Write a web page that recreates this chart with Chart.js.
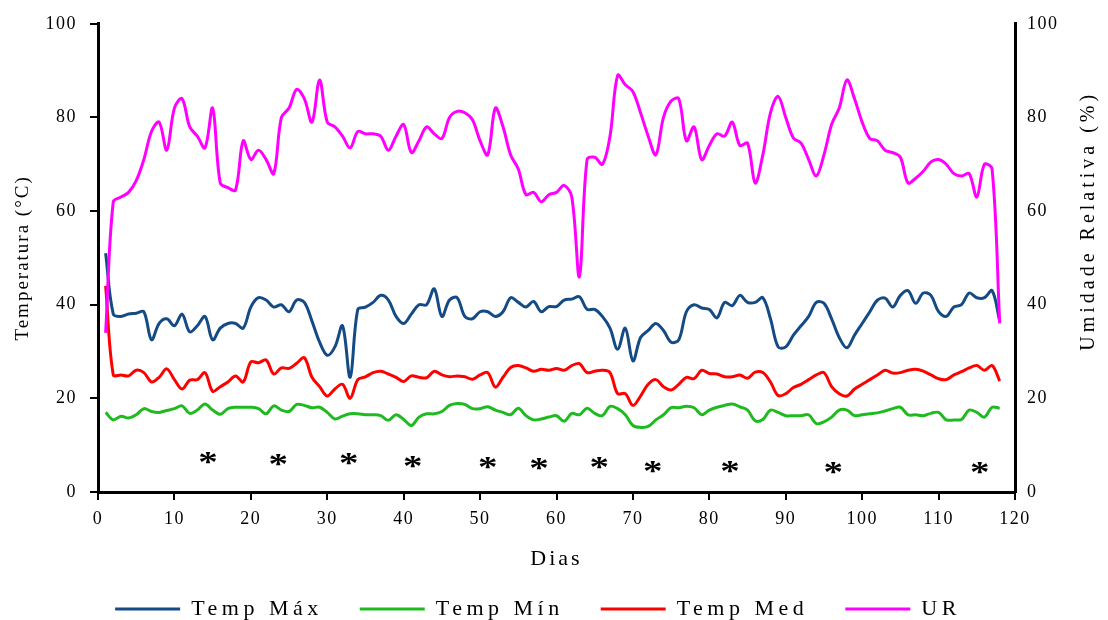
<!DOCTYPE html>
<html>
<head>
<meta charset="utf-8">
<script src="https://cdn.jsdelivr.net/npm/chart.js@4.4.1/dist/chart.umd.min.js"></script>
<style>
html, body { margin: 0; padding: 0; background: #fff; }
canvas { display: block; }
</style>
</head>
<body>
<canvas id="c" width="1108" height="620"></canvas>
<script>
// ---- data ----
const days = [1,2,3,4,5,6,7,8,9,10,11,12,13,14,15,16,17,18,19,20,
  21,22,23,24,25,26,27,28,29,30,31,32,33,34,35,36,37,38,39,40,
  41,42,43,44,45,46,47,48,49,50,51,52,53,54,55,56,57,58,59,60,
  61,62,63,64,65,66,67,68,69,70,71,72,73,74,75,76,77,78,79,80,
  81,82,83,84,85,86,87,88,89,90,91,92,93,94,95,96,97,98,99,100,
  101,102,103,104,105,106,107,108,109,110,111,112,113,114,115,116,117,118];

const tempMax = [51, 38, 37.5, 38, 38.2, 38.5, 32.5, 36, 37, 35.5,
  38, 34.2, 35.5, 37.5, 32.5, 35, 36, 36, 35, 39.5,
  41.5, 41, 39.5, 40, 38.5, 41, 40.5, 36.5, 32, 29.2,
  31, 35.5, 24.5, 39, 39.5, 40.5, 42, 41, 37.5, 36,
  38, 40, 40, 43.4, 37.5, 41, 41.5, 37.5, 37, 38.5,
  38.5, 37.5, 38.5, 41.5, 40.5, 39.5, 40.7, 38.5, 39.6, 39.6,
  41, 41.2, 41.7, 39, 39, 37.5, 35, 30.5, 35, 28,
  33, 34.5, 36, 34.5, 32, 32.5, 38.5, 40, 39.3, 39,
  37.2, 40.5, 39.8, 42, 40.5, 40.5, 41.5, 37, 31, 31,
  33.5, 35.5, 37.5, 40.5, 40.3, 37, 33, 30.8, 33.5, 36,
  38.5, 41, 41.4, 39.5, 42, 43, 40.3, 42.5, 42, 38.5,
  37.5, 39.5, 40, 42.5, 41.5, 41.5, 43, 36.5];

const tempMin = [17, 15.4, 16.2, 15.8, 16.5, 17.8, 17.2, 17, 17.4, 17.8,
  18.4, 16.8, 17.5, 18.8, 17.5, 16.6, 17.8, 18.1, 18.1, 18.1,
  17.8, 16.7, 18.4, 17.5, 17.2, 18.7, 18.5, 18, 18.1, 17,
  15.6, 16.2, 16.7, 16.7, 16.5, 16.5, 16.3, 15.3, 16.5, 15.5,
  14.2, 16, 16.7, 16.7, 17.2, 18.5, 18.9, 18.7, 17.8, 17.8,
  18.2, 17.5, 17, 16.5, 17.9, 16.3, 15.4, 15.6, 16, 16.3,
  15.1, 16.8, 16.5, 17.9, 16.8, 16.3, 18.3, 17.8, 16.5, 14.2,
  13.8, 14, 15.4, 16.5, 18, 18, 18.3, 18, 16.5, 17.5,
  18.1, 18.5, 18.8, 18.2, 17.5, 15.2, 15.5, 17.5, 17, 16.3,
  16.3, 16.3, 16.5, 14.6, 15, 16, 17.5, 17.5, 16.3, 16.5,
  16.7, 16.9, 17.3, 17.8, 18.1, 16.5, 16.5, 16.3, 16.8, 17,
  15.4, 15.4, 15.5, 17.5, 17, 16, 18.1, 17.9];

const tempMed = [44, 25, 25, 24.8, 26, 25.5, 23.5, 24.5, 26.3, 24,
  22, 23.9, 24, 25.5, 21.5, 22.5, 23.5, 24.8, 23.5, 27.8,
  27.6, 28.2, 25.2, 26.5, 26.4, 27.5, 28.7, 24.5, 22.5, 20.5,
  22, 23, 20, 24, 24.6, 25.5, 25.8, 25.2, 24.5, 23.6,
  24.8, 24.5, 24.4, 25.8, 25, 24.6, 24.8, 24.6, 24.1, 25,
  25.5, 22.4, 24.5, 26.6, 27, 26.5, 25.8, 26.2, 26, 26.4,
  26, 27, 27.4, 25.5, 25.8, 26, 25.5, 21, 21, 18.5,
  20.5, 23, 24, 22.5, 21.8, 23, 24.5, 24.2, 26, 25.3,
  25.2, 24.6, 24.6, 25, 24.3, 25.6, 25.5, 23.5, 20.6, 21,
  22.3, 23, 24, 25, 25.5, 22.5, 21, 20.5, 22, 23,
  24, 25, 26, 25.4, 25.5, 26, 26.2, 25.8, 25, 24.2,
  24, 25, 25.7, 26.5, 27, 26, 27, 23.7];

const umidade = [34, 62, 63, 64, 66.5, 71, 77, 79, 73, 82,
  84, 78, 76, 73.5, 82, 66, 65, 64.5, 75, 71,
  73, 71, 68, 80, 82, 86, 84, 79, 88, 79,
  78, 76, 73.5, 77, 76.5, 76.5, 76, 73, 76, 78.5,
  72.5, 75, 78, 76.5, 75.5, 80, 81.3, 81, 79.5, 75,
  72, 82, 78, 72, 69, 63.5, 64, 62, 63.5, 64,
  65.5, 63, 46, 71, 71.5, 70, 76, 89, 87, 85.5,
  81, 76, 72, 80, 83.5, 84, 75, 78, 71, 74,
  76.5, 76, 79, 74, 74.5, 66, 72, 81, 84.5, 80,
  75.6, 74.5, 71, 67.5, 72, 78.5, 82, 88, 84, 79,
  75.5, 75, 73, 72.5, 71.5, 66, 67, 68.5, 70.5, 71,
  70, 68, 67.5, 68, 63, 70, 69, 36];

const asteriskDays = [14.4, 23.6, 32.8, 41.2, 51.0, 57.7, 65.6, 72.6, 82.7, 96.2, 115.4];
const asteriskLevel = [7.3, 6.9, 7.1, 6.5, 6.2, 6.0, 6.2, 5.4, 5.4, 5.2, 5.2];

const xTicks = [0, 10, 20, 30, 40, 50, 60, 70, 80, 90, 100, 110, 120];
const yTicks = [0, 20, 40, 60, 80, 100];
const y1Ticks = [0, 20, 40, 60, 80, 100];

const seriesNames = ['Temp Máx', 'Temp Mín', 'Temp Med', 'UR'];
const seriesColors = ['#144B85', '#1FBA1F', '#FF0000', '#FF00FF'];
const xTitle = 'Dias';
const yTitle = 'Temperatura (°C)';
const y1Title = 'Umidade Relativa (%)';

// ---- helpers ----
const serif = '"Liberation Serif", "Times New Roman", serif';
const pts = (vals) => days.map((d, i) => ({ x: d, y: vals[i] }));

function spaced(obj, name, spacing) {
  const orig = obj[name];
  obj[name] = function () {
    const ctx = this.ctx;
    const prev = ctx.letterSpacing;
    ctx.letterSpacing = spacing;
    try { return orig.apply(this, arguments); }
    finally { ctx.letterSpacing = prev; }
  };
}

const letterSpacingPlugin = {
  id: 'letterSpacing',
  beforeLayout(chart) {
    const sp = { x: ['1.5px', '3px'], y: ['1.5px', '2px'], y1: ['1.5px', '0px'] };
    Object.values(chart.scales).forEach((s) => {
      if (s.$spaced) return;
      s.$spaced = true;
      const v = sp[s.id] || ['0px', '0px'];
      spaced(s, 'drawLabels', v[0]);
      spaced(s, 'drawTitle', v[1]);
    });
    const lg = chart.legend;
    if (lg && !lg.$spaced) {
      lg.$spaced = true;
      spaced(lg, 'fit', '4.5px');
      spaced(lg, 'draw', '4.5px');
      const f = lg.fit;
      lg.fit = function () { f.apply(this, arguments); this.height = 59; };
    }
  }
};

const asteriskPlugin = {
  id: 'asterisks',
  afterDatasetsDraw(chart) {
    const { ctx } = chart;
    const xs = chart.scales.x, ys = chart.scales.y;
    ctx.save();
    ctx.font = 'bold 30px ' + serif;
    ctx.fillStyle = '#000';
    ctx.textAlign = 'center';
    ctx.textBaseline = 'alphabetic';
    const m = ctx.measureText('*');
    const off = (m.actualBoundingBoxAscent - m.actualBoundingBoxDescent) / 2;
    asteriskDays.forEach((d, i) => {
      const px = xs.getPixelForValue(d);
      const py = ys.getPixelForValue(asteriskLevel[i]);
      ctx.save();
      ctx.translate(px, py + off);
      ctx.scale(1.3, 1);
      ctx.fillText('*', 0, 0);
      ctx.restore();
    });
    ctx.restore();
  }
};

const rightTitlePlugin = {
  id: 'rightTitle',
  afterDraw(chart) {
    const { ctx, chartArea } = chart;
    ctx.save();
    ctx.translate(chartArea.right + 74, chartArea.top + 197);
    ctx.rotate(-Math.PI / 2);
    ctx.font = '20px ' + serif;
    ctx.letterSpacing = '4px';
    ctx.fillStyle = '#000';
    ctx.textAlign = 'center';
    ctx.textBaseline = 'middle';
    ctx.fillText(y1Title, 0, 0);
    ctx.restore();
  }
};

const lineDs = (i, vals, axis, order) => ({
  label: seriesNames[i],
  data: pts(vals),
  yAxisID: axis,
  borderColor: seriesColors[i],
  backgroundColor: seriesColors[i],
  borderWidth: 3,
  pointRadius: 0,
  pointHoverRadius: 0,
  tension: 0.35,
  fill: false,
  order: order
});

const tickFont = { family: serif, size: 18 };

new Chart(document.getElementById('c'), {
  type: 'line',
  data: {
    datasets: [
      lineDs(0, tempMax, 'y', 1),
      lineDs(1, tempMin, 'y', 1),
      lineDs(2, tempMed, 'y', 1),
      lineDs(3, umidade, 'y1', 0)
    ]
  },
  options: {
    responsive: false,
    animation: false,
    events: [],
    layout: { padding: { top: 20, right: 32, bottom: 0, left: 0 } },
    plugins: {
      legend: {
        position: 'bottom',
        labels: {
          font: { family: serif, size: 22 },
          color: '#000',
          boxWidth: 65,
          boxHeight: 3,
          padding: 37,
          sort: (a, b) => a.datasetIndex - b.datasetIndex,
          generateLabels(chart) {
            const items = Chart.defaults.plugins.legend.labels.generateLabels(chart);
            return items.map((it) => Object.assign(it, { fillStyle: it.strokeStyle, lineWidth: 0 }));
          }
        }
      },
      tooltip: { enabled: false }
    },
    scales: {
      x: {
        type: 'linear',
        min: 0,
        max: 120,
        afterBuildTicks: (s) => { s.ticks = xTicks.map((v) => ({ value: v })); },
        afterFit: (s) => { s.height = 69; },
        grid: { display: true, drawOnChartArea: false, drawTicks: true, tickLength: 8, color: '#000', lineWidth: 2 },
        border: { display: true, color: '#000', width: 3 },
        ticks: { font: tickFont, color: '#000', padding: 8, maxRotation: 0, autoSkip: false },
        title: { display: true, text: xTitle, font: { family: serif, size: 22 }, color: '#000', padding: { top: 0, bottom: -11 } }
      },
      y: {
        type: 'linear',
        position: 'left',
        min: 0,
        max: 100,
        afterBuildTicks: (s) => { s.ticks = yTicks.map((v) => ({ value: v })); },
        afterFit: (s) => { s.width = 98; },
        grid: { display: true, drawOnChartArea: false, drawTicks: true, tickLength: 8, color: '#000', lineWidth: 2 },
        border: { display: true, color: '#000', width: 3 },
        ticks: { font: tickFont, color: '#000', padding: 13 },
        title: { display: true, text: yTitle, font: { family: serif, size: 19 }, color: '#000', padding: { top: 12, bottom: 0 } }
      },
      y1: {
        type: 'linear',
        position: 'right',
        min: 0,
        max: 100,
        afterBuildTicks: (s) => { s.ticks = y1Ticks.map((v) => ({ value: v })); },
        afterFit: (s) => { s.width = 61; },
        grid: { display: false, drawOnChartArea: false, drawTicks: false },
        border: { display: true, color: '#000', width: 3 },
        ticks: { font: tickFont, color: '#000', padding: 12 },
        title: { display: false, text: y1Title }
      }
    }
  },
  plugins: [letterSpacingPlugin, asteriskPlugin, rightTitlePlugin]
});
</script>
</body>
</html>
